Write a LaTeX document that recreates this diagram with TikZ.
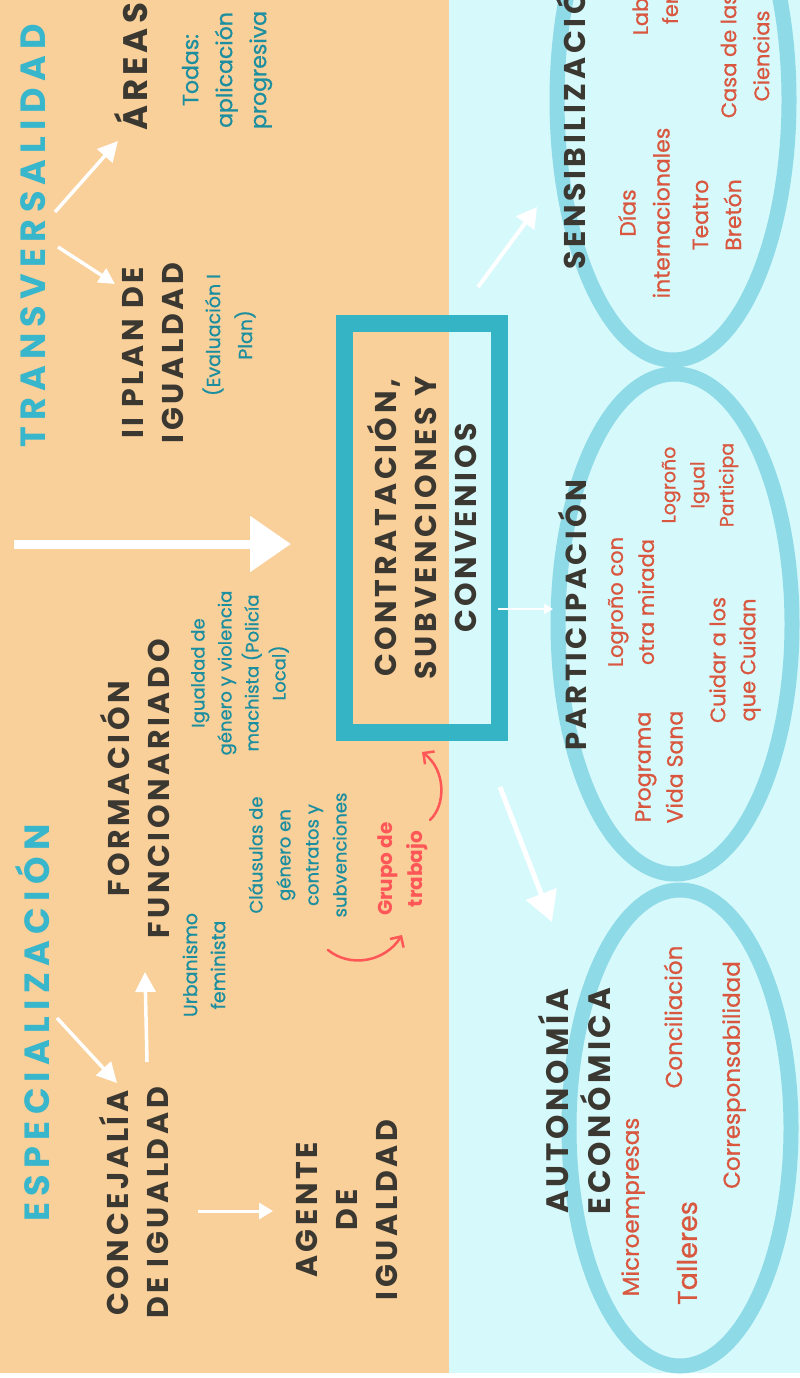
\documentclass[tikz,border=0pt]{standalone}
\usepackage{fontspec}
\setmainfont{Poppins}
\newfontfamily\headfont{Poppins}[LetterSpace=12]
\newfontfamily\titlefont{Poppins}[LetterSpace=18]
\newfontfamily\itemfont{Poppins}[FakeBold=0.8]
\usetikzlibrary{arrows.meta}
\definecolor{peach}{HTML}{F9CF9A}
\definecolor{icecyan}{HTML}{D6F9FC}
\definecolor{titleteal}{HTML}{38B6CB}
\definecolor{boxteal}{HTML}{35B4C6}
\definecolor{noteteal}{HTML}{1B8E9F}
\definecolor{darkink}{HTML}{3B3831}
\definecolor{itemred}{HTML}{D9573F}
\definecolor{groupred}{HTML}{FF5757}
\definecolor{ringblue}{HTML}{8EDAE6}
\newcommand{\fsz}[2]{\fontsize{#1}{#2}\selectfont}
\tikzset{
  upnode/.style={rotate=90, align=center, inner sep=0pt},
  bigtitle/.style={upnode, text=titleteal, font=\titlefont\bfseries\fsz{35}{40}},
  heading/.style={upnode, text=darkink, font=\headfont\bfseries\fsz{30}{40}},
  note/.style={upnode, text=noteteal},
  item/.style={upnode, text=itemred},
  ring/.style={draw=ringblue, line width=15pt},
  whitearrow/.style={draw=white, line width=3.5pt, -{Triangle[length=20pt, width=20pt]}},
  redarrow/.style={draw=groupred, line width=2.5pt, line cap=round, -{Straight Barb[length=8pt, width=16pt]}}
}
\begin{document}
\begin{tikzpicture}[x=1pt, y=-1pt]
\useasboundingbox (0,0) rectangle (800,1378);
\clip (0,0) rectangle (800,1378);
% backgrounds
\fill[peach] (0,0) rectangle (449,1373);
\fill[icecyan] (449,0) rectangle (800,1373);
% rings
\draw[ring] (673,100) ellipse [x radius=116, y radius=260];
\draw[ring] (675,624) ellipse [x radius=117, y radius=250];
\draw[ring] (680,1128) ellipse [x radius=111, y radius=238];
% left column
\node[bigtitle] (trans) at (33,236) {TRANSVERSALIDAD};
\node[bigtitle] (espec) at (33,1023) {ESPECIALIZACIÓN};
\node[heading, font=\headfont\bfseries\fsz{34}{40}] (areas) at (131,67) {ÁREAS};
\node[note, font=\itemfont\fsz{22}{34}] (todas) at (227,70) {Todas:\\aplicación\\progresiva};
\node[heading] (plan) at (153,353) {II PLAN DE\\IGUALDAD};
\node[note, font=\itemfont\fsz{19}{32}] (evalua) at (229,335) {(Evaluación I\\Plan)};
\node[heading] (formac) at (134.5,789) {FORMACIÓN\\FUNCIONARIADO};
\node[note, font=\itemfont\fsz{18}{27}] (igual) at (240,673) {Igualdad de\\género y violencia\\machista (Policía\\Local)};
\node[note, font=\itemfont\fsz{18}{28}] (clausulas) at (297.5,855) {Cláusulas de\\género en\\contratos y\\subvenciones};
\node[note, font=\itemfont\fsz{19}{28}] (urban) at (204,965) {Urbanismo\\feminista};
\node[upnode, text=groupred, font=\bfseries\fsz{20}{30}] (grupo) at (403,869) {Grupo de\\trabajo};
\node[heading] (conce) at (134,1203) {CONCEJALÍA\\DE IGUALDAD};
\node[heading] (agente) at (347,1210) {AGENTE\\DE\\IGUALDAD};
% central box
\node[heading, draw=boxteal, line width=17pt, minimum width=409.5pt, minimum height=155pt] (box) at (422,528) {CONTRATACIÓN,\\SUBVENCIONES Y\\CONVENIOS};
% right column
\node[heading, anchor=west] (sensi) at (571,270) {SENSIBILIZACIÓN};
\node[item, font=\itemfont\fsz{22}{34}] (dias) at (644,213) {Días\\internacionales};
\node[item, font=\itemfont\fsz{22}{33}] (teatro) at (717,215) {Teatro\\Bretón};
\node[item, font=\itemfont\fsz{21}{33}] (casa) at (745,56) {Casa de las\\Ciencias};
\node[item, font=\itemfont\fsz{21}{30}] (labo) at (655,-25) {Laboratorio\\feminista};
\node[heading, font=\headfont\bfseries\fsz{29}{40}] (partic) at (572,615) {PARTICIPACIÓN};
\node[item, font=\itemfont\fsz{21}{31}] (logcon) at (631,602) {Logroño con\\otra mirada};
\node[item, font=\itemfont\fsz{19}{29}] (logigual) at (700,485) {Logroño\\Igual\\Participa};
\node[item, font=\itemfont\fsz{21}{30}] (cuidar) at (735,660) {Cuidar a los\\que Cuidan};
\node[item, font=\itemfont\fsz{22}{32}] (programa) at (659,767) {Programa\\Vida Sana};
\node[heading, font=\headfont\bfseries\fsz{31}{42}] (autonomia) at (574,1101) {AUTONOMÍA\\ECONÓMICA};
\node[item, font=\itemfont\fsz{23}{30}] (micro) at (633,1207) {Microempresas};
\node[item, font=\itemfont\fsz{27}{30}] (talleres) at (687,1253) {Talleres};
\node[item, font=\itemfont\fsz{23}{30}] (concil) at (673,1017) {Conciliación};
\node[item, font=\itemfont\fsz{23}{30}] (corresp) at (734,1075) {Corresponsabilidad};
% arrow ends
\coordinate (t1) at (55,212);
\coordinate (t1e) at (118,141);
\coordinate (t2) at (58,247);
\coordinate (t2e) at (115,284);
\coordinate (e1) at (57,1018);
\coordinate (e1e) at (117,1083);
\coordinate (c1) at (147,1062);
\coordinate (c1e) at (145,972);
\coordinate (c2) at (198,1211);
\coordinate (c2e) at (273,1211);
\coordinate (big) at (14,544);
\coordinate (bige) at (291,544);
\coordinate (b1) at (478,287);
\coordinate (b1e) at (537,207);
\coordinate (b2) at (498,609);
\coordinate (b2e) at (553,609);
\coordinate (b3) at (500,787);
\coordinate (b3e) at (552,922);
\coordinate (g1) at (430,820);
\coordinate (g1e) at (422,752);
\coordinate (g2) at (328,950);
\coordinate (g2e) at (402,935);
% arrows
\draw[whitearrow] (t1) -- (t1e);
\draw[whitearrow, -{Triangle[length=16pt, width=16pt]}] (t2) -- (t2e);
\draw[whitearrow] (e1) -- (e1e);
\draw[whitearrow] (c1) -- (c1e);
\draw[whitearrow, line width=3pt, -{Triangle[length=14pt, width=16pt]}] (c2) -- (c2e);
\draw[whitearrow, line width=9pt, -{Triangle[length=41pt, width=54pt]}] (big) -- (bige);
\draw[whitearrow, line width=4pt, -{Triangle[length=20pt, width=22pt]}] (b1) -- (b1e);
\draw[whitearrow, line width=2pt, -{Triangle[length=9pt, width=10pt]}] (b2) -- (b2e);
\draw[whitearrow, line width=5pt, -{Triangle[length=30pt, width=32pt]}] (b3) -- (b3e);
\draw[redarrow] (g1) .. controls (446,805) and (446,770) .. (g1e);
\draw[redarrow] (g2) .. controls (350,968) and (385,962) .. (g2e);
\end{tikzpicture}
\end{document}
